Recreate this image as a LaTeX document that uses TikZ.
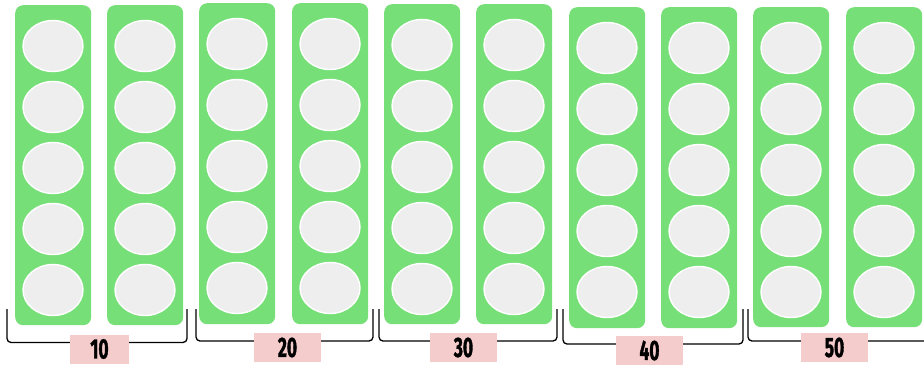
\documentclass[tikz,border=0pt]{standalone}
\usepackage{fontspec}
\newfontfamily\tagfont[FakeStretch=0.62, BoldFeatures={FakeBold=1.2}]{Fira Sans}
\usetikzlibrary{shapes.geometric}
\definecolor{barGreen}{HTML}{77DF77}
\definecolor{dotGray}{HTML}{EEEEEE}
\definecolor{tagPink}{HTML}{F4CCCC}
\tikzset{
  tenbar/.style = {fill = barGreen, rounded corners = 8pt, anchor = north west,
                   minimum width = 76pt, inner sep = 0pt},
  dot/.style    = {ellipse, fill = dotGray, draw = white, line width = 1.4pt,
                   minimum width = 60pt, minimum height = 51pt, inner sep = 0pt},
  tag/.style    = {fill = tagPink, inner sep = 0pt, minimum height = 29pt,
                   font = \tagfont\bfseries\fontsize{28}{28}\selectfont},
  brace/.style  = {black, line width = 1.3pt, rounded corners = 4pt}
}
\begin{document}
\begin{tikzpicture}[x = 1pt, y = -1pt]
    \useasboundingbox (0, 0) rectangle (924, 368);
    % pairs of ten-bars, one bracket and tag per pair
    \foreach \g/\xa/\xb/\t/\h/\bl/\br/\lx/\ly/\lw/\txt in {
        1/15/107/5/320/7/187/99.5/349/59/10,
        2/199/292/3/321/196/373/287.5/347.5/67/20,
        3/384/476/4/320/379/557/463.5/347.5/67/30,
        4/569/661/7/321/563/743/649.5/350.5/67/40,
        5/753/846/7/320/748/930/834.5/347.5/67/50} {
        \foreach \i/\x in {a/\xa, b/\xb} {
            \node[tenbar, minimum height = \h pt] (bar-\g\i) at (\x, \t) {};
            \foreach \k in {0, ..., 4}
                \node[dot] (dot-\g\i\k) at (\x + 38, \t + 41 + 61*\k) {};
        }
        \node[tag, minimum width = \lw pt] (lab-\g) at (\lx, \ly) {\txt};
        \coordinate (bl-\g) at (\bl, 309);
        \coordinate (br-\g) at (\br, 309);
        \draw[brace] (bl-\g) |- ([yshift = 6.5pt] lab-\g.west);
        \draw[brace] ([yshift = 6.5pt] lab-\g.east) -| (br-\g);
    }
\end{tikzpicture}
\end{document}
